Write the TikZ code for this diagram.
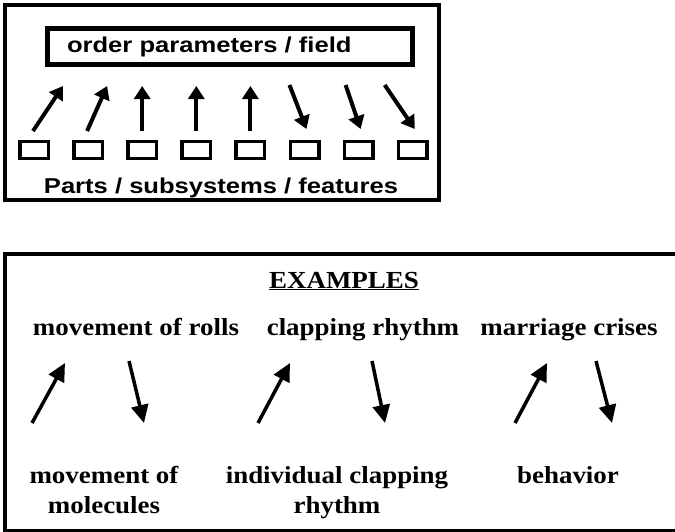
\documentclass[tikz,border=0pt]{standalone}
\usepackage{fontspec}
\usetikzlibrary{arrows.meta}
\newfontfamily\partsfont{Liberation Sans}[FakeStretch=1.19]
\newfontfamily\examplefont{Liberation Serif}[FakeStretch=1.1]

\begin{document}
\begin{tikzpicture}[x=1pt, y=-1pt,
    frame/.style={draw, line width=4.5pt},
    part/.style={draw, line width=3.5pt, minimum width=28.5pt, minimum height=17pt, inner sep=0pt},
    partarrow/.style={line width=4pt, -{Triangle[width=16pt,length=13pt]}},
    examplearrow/.style={line width=3.5pt, -{Triangle[width=17pt,length=18pt]}},
    sanslabel/.style={font=\partsfont\bfseries\fontsize{21.5}{24}\selectfont},
    seriflabel/.style={font=\examplefont\bfseries\fontsize{24.5}{30}\selectfont, align=center, inner sep=0pt}]
    \useasboundingbox (0,0) rectangle (675,531);

    % Upper panel: field and parts
    \draw[frame] (5,5) rectangle (439,200);
    \node[draw, line width=4.5pt, sanslabel, text width=326pt, align=left, inner xsep=19.5pt,
          minimum height=36pt] (field) at (230,46.5) {order parameters / field};
    \foreach \i in {1,...,8}
        \node[part] (p\i) at ({34+54.1*(\i-1)},150) {};
    \foreach \i/\sx/\dx in {1/-1/29, 2/-1/19, 3/0/0, 4/0/0, 5/0/0}
        \draw[partarrow] ([shift={(\sx,-19)}]p\i.center) -- ([shift={(\dx,-64)}]p\i.center);
    \foreach \i/\dx in {6/-15, 7/-13, 8/-28}
        \draw[partarrow] ([shift={(\dx,-65)}]p\i.center) -- ([shift={(2,-21)}]p\i.center);
    \node[sanslabel, anchor=base, inner sep=0pt] (parts) at (221,193) {Parts / subsystems / features};

    % Lower panel: examples
    \draw[frame] (5,254) rectangle (680,531);
    \node[seriflabel, anchor=base] (examples) at (344,288) {\underline{EXAMPLES}};
    \node[seriflabel, anchor=base] (rolls) at (136,335) {movement of rolls};
    \node[seriflabel, anchor=base] (clapping) at (363,335) {clapping rhythm};
    \node[seriflabel, anchor=base] (marriage) at (569,335) {marriage crises};
    \node[seriflabel, anchor=base] (molecules) at (104,513) {movement of\\molecules};
    \node[seriflabel, anchor=base] (individual) at (337,513) {individual clapping\\rhythm};
    \node[seriflabel, anchor=base] (behavior) at (568,483) {behavior};

    % arrow ends between the example labels
    \coordinate (lo1) at (32,423);  \coordinate (hi1) at (65,363);
    \coordinate (hi2) at (129,361); \coordinate (lo2) at (144,423);
    \coordinate (lo3) at (258,423); \coordinate (hi3) at (290,363);
    \coordinate (hi4) at (372,361); \coordinate (lo4) at (385,423);
    \coordinate (lo5) at (515,423); \coordinate (hi5) at (547,363);
    \coordinate (hi6) at (596,361); \coordinate (lo6) at (612,423);
    \foreach \n in {1,3,5}
        \draw[examplearrow] (lo\n) -- (hi\n);
    \foreach \n in {2,4,6}
        \draw[examplearrow] (hi\n) -- (lo\n);
\end{tikzpicture}
\end{document}
